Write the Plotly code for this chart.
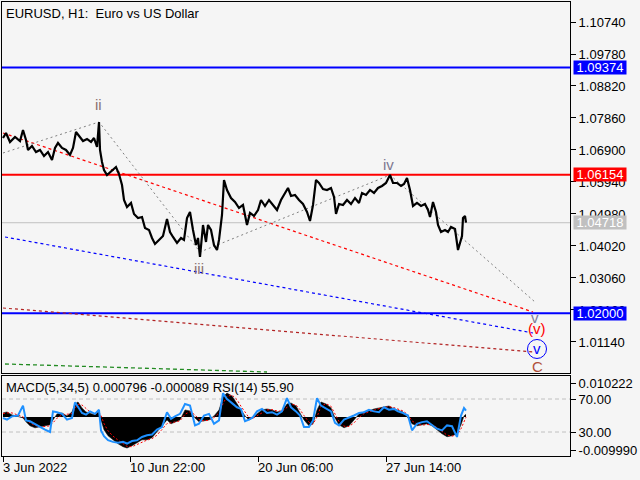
import plotly.graph_objects as go

# ---------------- data ----------------
title_text = "EURUSD, H1:\u00a0 Euro vs US Dollar"
ind_text = "MACD(5,34,5) 0.000796 -0.000089 RSI(14) 55.90"

price_bar = [0, 3, 7, 12, 17, 20, 23, 25, 29, 33, 37, 41, 45, 49, 52, 55, 59, 63, 67, 70,
             73, 76, 80, 84, 88, 91, 94, 96, 97, 99, 101, 104, 107, 110, 113, 116, 119, 121, 124, 128,
             131, 135, 139, 142, 146, 149, 152, 156, 160, 164, 167, 170, 174, 178, 181, 184, 187, 190, 193, 195,
             197, 200, 203, 205, 208, 211, 214, 216, 219, 221, 224, 228, 232, 236, 240, 244, 247, 251, 255, 258,
             262, 266, 270, 274, 278, 282, 285, 288, 292, 296, 300, 304, 307, 310, 313, 316, 320, 324, 328, 331,
             333, 336, 340, 344, 348, 352, 356, 359, 363, 367, 371, 375, 379, 383, 387, 390, 394, 398, 401, 404,
             407, 410, 414, 418, 422, 425, 427, 430, 433, 435, 438, 442, 445, 448, 452, 455, 457, 459, 460, 462, 463]
price_val = [1.0726, 1.0741, 1.0714, 1.0729, 1.0717, 1.0750, 1.0720, 1.0690, 1.0702, 1.0684, 1.0690, 1.0672, 1.0684, 1.0660, 1.0696, 1.0711, 1.0696, 1.0690, 1.0675, 1.0696,
             1.0744, 1.0732, 1.0717, 1.0723, 1.0714, 1.0726, 1.0699, 1.0774, 1.0690, 1.0654, 1.0630, 1.0615, 1.0624, 1.0630, 1.0639, 1.0618, 1.0585, 1.0540, 1.0519, 1.0531,
             1.0498, 1.0486, 1.0489, 1.0456, 1.0450, 1.0426, 1.0408, 1.0420, 1.0432, 1.0483, 1.0444, 1.0429, 1.0411, 1.0426, 1.0420, 1.0486, 1.0504, 1.0450, 1.0405, 1.0426,
             1.0369, 1.0465, 1.0414, 1.0465, 1.0450, 1.0405, 1.0390, 1.0420, 1.0495, 1.0600, 1.0570, 1.0546, 1.0534, 1.0516, 1.0525, 1.0465, 1.0501, 1.0492, 1.0510, 1.0540,
             1.0522, 1.0540, 1.0525, 1.0510, 1.0540, 1.0561, 1.0576, 1.0552, 1.0555, 1.0540, 1.0528, 1.0504, 1.0477, 1.0525, 1.0600, 1.0591, 1.0573, 1.0570, 1.0576, 1.0549,
             1.0498, 1.0528, 1.0525, 1.0540, 1.0528, 1.0546, 1.0531, 1.0561, 1.0555, 1.0570, 1.0561, 1.0576, 1.0582, 1.0591, 1.0615, 1.0591, 1.0591, 1.0582, 1.0588, 1.0606,
             1.0570, 1.0522, 1.0531, 1.0522, 1.0528, 1.0510, 1.0489, 1.0534, 1.0504, 1.0465, 1.0444, 1.0450, 1.0444, 1.0459, 1.0453, 1.0390, 1.0411, 1.0432, 1.0486, 1.0492, 1.0472]

wave_bar = [0, 96, 197, 387, 532]
wave_val = [1.0681, 1.0774, 1.0384, 1.0615, 1.0234]

red_ch_bar = [0, 530]
red_ch_val = [1.0741, 1.0204]
blue_ch_bar = [2, 530]
blue_ch_val = [1.0429, 1.0141]
brown_ch_bar = [0, 530]
brown_ch_val = [1.0216, 1.0084]
green_ch_bar = [2, 264]
green_ch_val = [1.0048, 1.0024]

levels = [1.09374, 1.06154, 1.04718, 1.02000]
price_ticks = [1.01140, 1.02100, 1.03060, 1.04020, 1.04980, 1.05940, 1.06900, 1.07860, 1.08820, 1.09780, 1.10740]

tick_bars = [0, 127, 255, 383]
tick_labels = ["3 Jun 2022", "10 Jun 22:00", "20 Jun 06:00", "27 Jun 14:00"]

wave_label_text = ["ii", "iii", "iv", "v", "(v)", "v", "C"]
wave_label_bar = [95, 196, 385, 532, 534, 534, 534]
wave_label_val = [1.0825, 1.0333, 1.0645, 1.0186, 1.0153, 1.0093, 1.0039]

ind_bar = [0, 4, 9, 15, 20, 23, 27, 32, 37, 42, 47, 50, 54, 59, 64, 69, 72, 75, 79, 83,
           87, 92, 96, 98, 101, 105, 110, 115, 120, 124, 129, 134, 139, 144, 149, 154, 159, 164, 168, 172,
           177, 182, 187, 192, 196, 201, 206, 211, 216, 220, 224, 229, 234, 238, 242, 246, 250, 254, 259, 264,
           269, 274, 279, 284, 288, 293, 297, 301, 306, 310, 314, 318, 323, 328, 332, 336, 341, 346, 351, 356,
           361, 366, 371, 376, 381, 386, 391, 395, 400, 405, 409, 414, 419, 424, 429, 434, 439, 444, 449, 454,
           458, 461, 463]
macd = [0.0012, 0.0015, 0.0006, 0.0000, -0.0003, -0.0015, -0.0027, -0.0033, -0.0030, -0.0027,
        -0.0024, -0.0009, 0.0009, 0.0012, 0.0003, 0.0015, 0.0039, 0.0045, 0.0027, 0.0015,
        0.0012, 0.0006, 0.0018, -0.0009, -0.0039, -0.0057, -0.0069, -0.0081, -0.0090, -0.0094,
        -0.0087, -0.0078, -0.0069, -0.0069, -0.0063, -0.0045, -0.0027, -0.0009, -0.0021, -0.0015,
        -0.0009, 0.0021, 0.0018, -0.0003, -0.0015, -0.0012, -0.0009, 0.0003, 0.0021, 0.0060,
        0.0072, 0.0063, 0.0039, 0.0021, 0.0003, -0.0009, -0.0003, 0.0009, 0.0021, 0.0024,
        0.0021, 0.0015, 0.0018, 0.0039, 0.0042, 0.0033, 0.0012, -0.0009, -0.0027, -0.0021,
        0.0021, 0.0045, 0.0039, 0.0027, -0.0003, -0.0024, -0.0033, -0.0027, -0.0009, 0.0009,
        0.0015, 0.0018, 0.0024, 0.0027, 0.0030, 0.0033, 0.0024, 0.0021, 0.0015, -0.0003,
        -0.0021, -0.0027, -0.0024, -0.0021, -0.0027, -0.0039, -0.0051, -0.0060, -0.0057, -0.0051,
        -0.0024, 0.0003, 0.0008]
signal = [0.0010, 0.0012, 0.0012, 0.0006, 0.0000, -0.0008, -0.0018, -0.0026, -0.0030, -0.0029,
          -0.0027, -0.0018, -0.0004, 0.0006, 0.0008, 0.0010, 0.0025, 0.0038, 0.0036, 0.0024,
          0.0015, 0.0010, 0.0013, 0.0004, -0.0020, -0.0042, -0.0058, -0.0070, -0.0082, -0.0089,
          -0.0090, -0.0083, -0.0075, -0.0070, -0.0066, -0.0055, -0.0038, -0.0020, -0.0018, -0.0016,
          -0.0012, 0.0008, 0.0016, 0.0006, -0.0008, -0.0012, -0.0010, -0.0002, 0.0012, 0.0040,
          0.0062, 0.0066, 0.0052, 0.0032, 0.0014, -0.0002, -0.0004, 0.0003, 0.0014, 0.0021,
          0.0022, 0.0018, 0.0017, 0.0030, 0.0038, 0.0036, 0.0022, 0.0004, -0.0016, -0.0022,
          0.0000, 0.0032, 0.0040, 0.0032, 0.0010, -0.0014, -0.0028, -0.0029, -0.0018, -0.0002,
          0.0010, 0.0016, 0.0020, 0.0025, 0.0028, 0.0031, 0.0028, 0.0024, 0.0018, 0.0006,
          -0.0012, -0.0022, -0.0025, -0.0023, -0.0024, -0.0032, -0.0044, -0.0055, -0.0058, -0.0054,
          -0.0036, -0.0012, -0.0001]
rsi = [47, 45, 49, 50, 62, 44, 43, 40, 36, 33,
       30, 55, 54, 52, 45, 47, 66, 60, 53, 51,
       55, 52, 57, 32, 25, 20, 18, 17, 18, 16,
       19, 20, 24, 26, 27, 33, 36, 54, 46, 49,
       52, 64, 62, 38, 40, 50, 52, 40, 44, 77,
       70, 65, 60, 58, 43, 45, 48, 55, 58, 53,
       54, 51, 55, 71, 60, 55, 50, 36, 36, 44,
       71, 62, 58, 55, 41, 38, 45, 48, 50, 53,
       54, 57, 55, 54, 60, 57, 58, 55, 53, 50,
       32, 40, 42, 43, 38, 34, 32, 38, 37, 24,
       50, 59, 55.9]
macd_ticks = [0.010222, -0.009990]
rsi_ticks = [70, 30]

# ---------------- styles ----------------
BG = "#f5f5f5"
FONT = "Liberation Sans, Arial, sans-serif"
level_colors = ["#0000ff", "#ff0000", "#c0c0c0", "#0000ff"]
level_widths = [2, 2, 1, 2]
wave_label_colors = ["#8a7272", "#8a7272", "#7d7890", "#7d7d9a", "#ff0000", "#0000ff", "#b0503a"]

fig = go.Figure()

# channels / wave lines
fig.add_trace(go.Scatter(x=green_ch_bar, y=green_ch_val, mode="lines",
                         line=dict(color="#228b22", width=1.3, dash="4px,3px"), xaxis="x", yaxis="y"))
fig.add_trace(go.Scatter(x=brown_ch_bar, y=brown_ch_val, mode="lines",
                         line=dict(color="#b22222", width=1.2, dash="3px,3px"), xaxis="x", yaxis="y"))
fig.add_trace(go.Scatter(x=blue_ch_bar, y=blue_ch_val, mode="lines",
                         line=dict(color="#0000ff", width=1.2, dash="3px,3px"), xaxis="x", yaxis="y"))
fig.add_trace(go.Scatter(x=red_ch_bar, y=red_ch_val, mode="lines",
                         line=dict(color="#ff0000", width=1.2, dash="3px,3px"), xaxis="x", yaxis="y"))
fig.add_trace(go.Scatter(x=wave_bar, y=wave_val, mode="lines",
                         line=dict(color="#808080", width=1, dash="2px,3px"), xaxis="x", yaxis="y"))

# price
fig.add_trace(go.Scatter(x=price_bar, y=price_val, mode="lines",
                         line=dict(color="#000000", width=2.2), xaxis="x", yaxis="y"))

# indicator panel
fig.add_trace(go.Scatter(x=ind_bar, y=macd, mode="lines", fill="tozeroy", fillcolor="#000000",
                         line=dict(color="#000000", width=0.5), xaxis="x2", yaxis="y2"))
fig.add_trace(go.Scatter(x=ind_bar, y=rsi, mode="lines",
                         line=dict(color="#1e90ff", width=2), xaxis="x2", yaxis="y3"))
fig.add_trace(go.Scatter(x=ind_bar, y=signal, mode="lines",
                         line=dict(color="#ff0000", width=1, dash="2px,2px"), xaxis="x2", yaxis="y2"))

shapes = []
for lv, col, w in zip(levels, level_colors, level_widths):
    shapes.append(dict(type="line", xref="x domain", yref="y", x0=0, x1=1, y0=lv, y1=lv,
                       line=dict(color=col, width=w), layer="below"))
for rv in rsi_ticks:
    shapes.append(dict(type="line", xref="x2 domain", yref="y3", x0=0, x1=1, y0=rv, y1=rv,
                       line=dict(color="#c0c0c0", width=1, dash="4px,3px"), layer="below"))
# circle around the blue wave label
shapes.append(dict(type="circle", xref="x", yref="y", xsizemode="pixel", ysizemode="pixel",
                   xanchor=wave_label_bar[5], yanchor=wave_label_val[5],
                   x0=-9.5, x1=9.5, y0=-9.5, y1=9.5, line=dict(color="#0000ff", width=1)))

annotations = []
annotations.append(dict(text=title_text, xref="paper", yref="paper", x=0, y=1, xanchor="left", yanchor="top",
                        xshift=2, yshift=-2, showarrow=False, font=dict(family=FONT, size=13, color="#000")))
annotations.append(dict(text=ind_text, xref="paper", yref="paper", x=0, y=0.1762, xanchor="left", yanchor="top",
                        xshift=2, yshift=-2, showarrow=False, font=dict(family=FONT, size=13, color="#000")))
for b, t in zip(tick_bars, tick_labels):
    annotations.append(dict(text=t, xref="x2", yref="paper", x=b, y=0, xanchor="left", yanchor="top",
                            xshift=-2, yshift=-2, showarrow=False, font=dict(family=FONT, size=13, color="#000")))
for lv, col in zip(levels, level_colors):
    annotations.append(dict(text=f"{lv:.5f}", xref="paper", yref="y", x=1, y=lv, xanchor="left", yanchor="middle",
                            xshift=3, showarrow=False, bgcolor=col, width=52, height=13, borderpad=0,
                            font=dict(family=FONT, size=13, color="#ffffff")))
for t, b, v, c in zip(wave_label_text, wave_label_bar, wave_label_val, wave_label_colors):
    annotations.append(dict(text=t, xref="x", yref="y", x=b, y=v, showarrow=False,
                            font=dict(family=FONT, size=15, color=c)))

axis_common = dict(showline=True, mirror=True, linecolor="#000", linewidth=1, showgrid=False, zeroline=False)

fig.update_layout(
    width=640, height=480,
    margin=dict(l=2, r=70, t=2, b=24),
    paper_bgcolor=BG, plot_bgcolor=BG,
    showlegend=False,
    font=dict(family=FONT, size=13, color="#000"),
    xaxis=dict(domain=[0, 1], anchor="y", range=[-1, 567], showticklabels=False, ticks="", **axis_common),
    yaxis=dict(domain=[0.1828, 1], anchor="x", range=[1.00209, 1.11340], side="right",
               tickvals=price_ticks, tickformat=".5f", ticks="outside", ticklen=5, tickcolor="#000",
               **axis_common),
    xaxis2=dict(domain=[0, 1], anchor="y2", range=[-1, 567], matches="x", tickvals=tick_bars,
                showticklabels=False, ticks="outside", ticklen=5, tickcolor="#000", **axis_common),
    yaxis2=dict(domain=[0, 0.1762], anchor="x2", range=[-0.0118, 0.012334], side="right",
                tickvals=macd_ticks, ticktext=[f"{v:.6f}" for v in macd_ticks], ticks="outside",
                ticklen=5, tickcolor="#000", **axis_common),
    yaxis3=dict(overlaying="y2", anchor="x2", range=[0.9, 97.9], side="right",
                tickvals=rsi_ticks, ticktext=[f"{v:.2f}" for v in rsi_ticks], ticks="outside",
                ticklen=5, tickcolor="#000", showgrid=False, zeroline=False, showline=False),
    shapes=shapes,
    annotations=annotations,
)

fig.write_html("out.html", config={"displayModeBar": False},
               post_script="document.body.style.margin='0';document.body.style.overflow='hidden';")
